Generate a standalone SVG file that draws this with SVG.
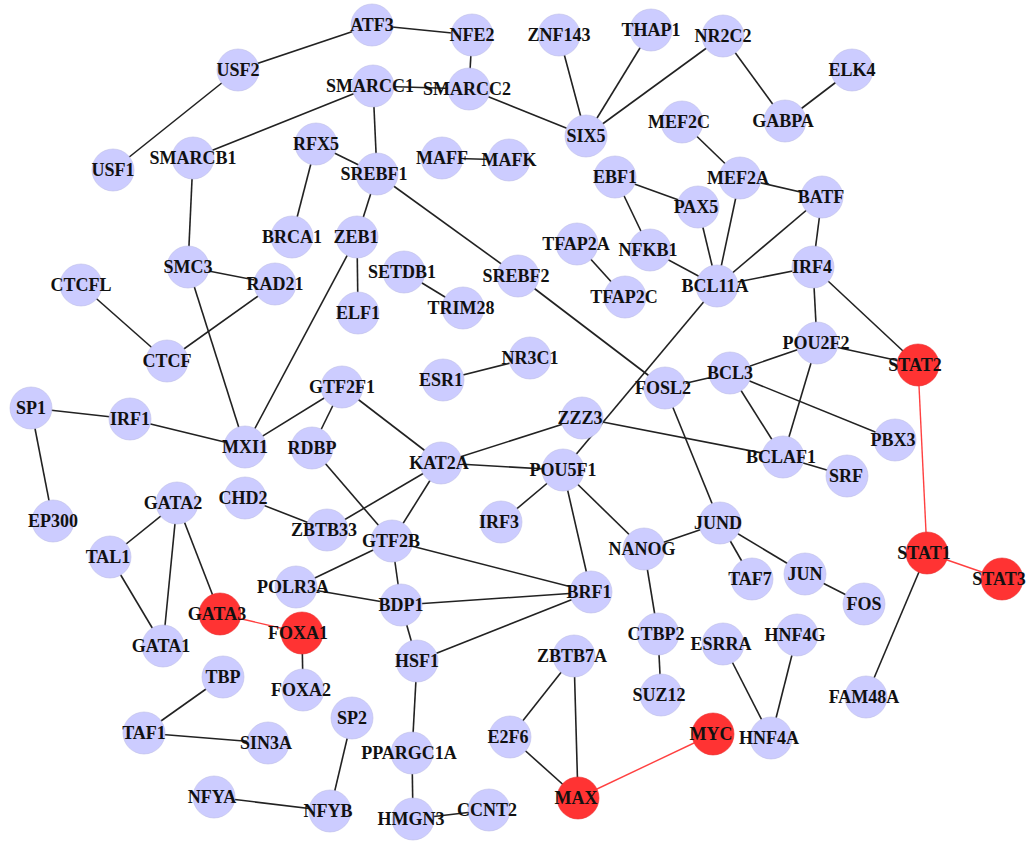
<svg xmlns="http://www.w3.org/2000/svg" width="1034" height="842" viewBox="0 0 1034 842">
<style>
.e{stroke:#222;stroke-width:1.6;fill:none}
.r{stroke:#ff4040;stroke-width:1.4;fill:none}
.n circle{fill:#ccccff;stroke:#c0c0e8;stroke-width:0.6}
.h circle{fill:#ff3333;stroke:#e83030;stroke-width:0.6}
text{font-family:"Liberation Serif","Times New Roman",serif;font-weight:bold;font-size:18px;fill:#111;text-anchor:middle}
</style>
<rect width="1034" height="842" fill="#fff"/>
<g id="edges">
<line class="e" x1="372" y1="25" x2="238" y2="70"/>
<line class="e" x1="372" y1="25" x2="472" y2="35"/>
<line class="e" x1="472" y1="35" x2="469" y2="89"/>
<line class="e" x1="373" y1="86" x2="469" y2="89"/>
<line class="e" x1="373" y1="86" x2="193" y2="158"/>
<line class="e" x1="373" y1="86" x2="377" y2="174"/>
<line class="e" x1="469" y1="89" x2="586" y2="136"/>
<line class="e" x1="238" y1="70" x2="113" y2="170"/>
<line class="e" x1="559" y1="35" x2="586" y2="136"/>
<line class="e" x1="651" y1="30" x2="586" y2="136"/>
<line class="e" x1="723" y1="36" x2="586" y2="136"/>
<line class="e" x1="723" y1="36" x2="785" y2="121"/>
<line class="e" x1="852" y1="70" x2="785" y2="121"/>
<line class="e" x1="682" y1="122" x2="740" y2="178"/>
<line class="e" x1="740" y1="178" x2="822" y2="197"/>
<line class="e" x1="740" y1="178" x2="717" y2="286"/>
<line class="e" x1="615" y1="177" x2="698" y2="207"/>
<line class="e" x1="615" y1="177" x2="650" y2="250"/>
<line class="e" x1="698" y1="207" x2="717" y2="286"/>
<line class="e" x1="650" y1="250" x2="717" y2="286"/>
<line class="e" x1="822" y1="197" x2="717" y2="286"/>
<line class="e" x1="822" y1="197" x2="813" y2="267"/>
<line class="e" x1="813" y1="267" x2="717" y2="286"/>
<line class="e" x1="813" y1="267" x2="817" y2="343"/>
<line class="e" x1="813" y1="267" x2="918" y2="365"/>
<line class="e" x1="817" y1="343" x2="918" y2="365"/>
<line class="e" x1="817" y1="343" x2="730" y2="373"/>
<line class="e" x1="817" y1="343" x2="783" y2="457"/>
<line class="e" x1="730" y1="373" x2="665" y2="388"/>
<line class="e" x1="730" y1="373" x2="783" y2="457"/>
<line class="e" x1="730" y1="373" x2="895" y2="440"/>
<line class="e" x1="783" y1="457" x2="847" y2="476"/>
<line class="e" x1="582" y1="418" x2="783" y2="457"/>
<line class="e" x1="717" y1="286" x2="563" y2="470"/>
<line class="e" x1="377" y1="174" x2="316" y2="144"/>
<line class="e" x1="316" y1="144" x2="292" y2="237"/>
<line class="e" x1="377" y1="174" x2="357" y2="237"/>
<line class="e" x1="377" y1="174" x2="518" y2="276"/>
<line class="e" x1="518" y1="276" x2="665" y2="388"/>
<line class="e" x1="357" y1="237" x2="358" y2="313"/>
<line class="e" x1="357" y1="237" x2="245" y2="447"/>
<line class="e" x1="442" y1="158" x2="509" y2="160"/>
<line class="e" x1="193" y1="158" x2="188" y2="267"/>
<line class="e" x1="188" y1="267" x2="275" y2="284"/>
<line class="e" x1="188" y1="267" x2="245" y2="447"/>
<line class="e" x1="275" y1="284" x2="167" y2="361"/>
<line class="e" x1="81" y1="285" x2="167" y2="361"/>
<line class="e" x1="404" y1="272" x2="463" y2="308"/>
<line class="e" x1="577" y1="244" x2="625" y2="297"/>
<line class="e" x1="443" y1="380" x2="530" y2="358"/>
<line class="e" x1="31" y1="408" x2="130" y2="419"/>
<line class="e" x1="31" y1="408" x2="53" y2="521"/>
<line class="e" x1="130" y1="419" x2="245" y2="447"/>
<line class="e" x1="245" y1="447" x2="342" y2="387"/>
<line class="e" x1="342" y1="387" x2="441" y2="463"/>
<line class="e" x1="342" y1="387" x2="312" y2="448"/>
<line class="e" x1="312" y1="448" x2="392" y2="541"/>
<line class="e" x1="441" y1="463" x2="582" y2="418"/>
<line class="e" x1="441" y1="463" x2="563" y2="470"/>
<line class="e" x1="441" y1="463" x2="392" y2="541"/>
<line class="e" x1="441" y1="463" x2="327" y2="530"/>
<line class="e" x1="245" y1="498" x2="327" y2="530"/>
<line class="e" x1="392" y1="541" x2="296" y2="587"/>
<line class="e" x1="296" y1="587" x2="401" y2="605"/>
<line class="e" x1="392" y1="541" x2="401" y2="605"/>
<line class="e" x1="392" y1="541" x2="591" y2="592"/>
<line class="e" x1="401" y1="605" x2="591" y2="592"/>
<line class="e" x1="401" y1="605" x2="417" y2="661"/>
<line class="e" x1="417" y1="661" x2="591" y2="592"/>
<line class="e" x1="417" y1="661" x2="412" y2="753"/>
<line class="e" x1="412" y1="753" x2="413" y2="819"/>
<line class="e" x1="413" y1="819" x2="489" y2="810"/>
<line class="e" x1="563" y1="470" x2="501" y2="522"/>
<line class="e" x1="563" y1="470" x2="591" y2="592"/>
<line class="e" x1="563" y1="470" x2="644" y2="549"/>
<line class="e" x1="644" y1="549" x2="720" y2="523"/>
<line class="e" x1="644" y1="549" x2="658" y2="634"/>
<line class="e" x1="658" y1="634" x2="661" y2="695"/>
<line class="e" x1="665" y1="388" x2="720" y2="523"/>
<line class="e" x1="720" y1="523" x2="752" y2="579"/>
<line class="e" x1="720" y1="523" x2="805" y2="574"/>
<line class="e" x1="805" y1="574" x2="864" y2="604"/>
<line class="e" x1="723" y1="644" x2="771" y2="738"/>
<line class="e" x1="797" y1="635" x2="771" y2="738"/>
<line class="e" x1="927" y1="553" x2="866" y2="697"/>
<line class="e" x1="574" y1="656" x2="510" y2="737"/>
<line class="e" x1="574" y1="656" x2="578" y2="798"/>
<line class="e" x1="510" y1="737" x2="578" y2="798"/>
<line class="e" x1="177" y1="503" x2="110" y2="557"/>
<line class="e" x1="177" y1="503" x2="163" y2="646"/>
<line class="e" x1="177" y1="503" x2="220" y2="614"/>
<line class="e" x1="110" y1="557" x2="163" y2="646"/>
<line class="e" x1="302" y1="633" x2="303" y2="690"/>
<line class="e" x1="223" y1="677" x2="144" y2="733"/>
<line class="e" x1="144" y1="733" x2="268" y2="743"/>
<line class="e" x1="214" y1="797" x2="330" y2="811"/>
<line class="e" x1="352" y1="718" x2="330" y2="811"/>
<line class="r" x1="918" y1="365" x2="927" y2="553"/>
<line class="r" x1="927" y1="553" x2="1002" y2="579"/>
<line class="r" x1="578" y1="798" x2="713" y2="734"/>
<line class="r" x1="220" y1="614" x2="302" y2="633"/>
</g>
<g id="USF2" class="n"><circle cx="238" cy="70" r="21"/><text x="238" y="76">USF2</text></g>
<g id="USF1" class="n"><circle cx="113" cy="170" r="21"/><text x="113" y="176">USF1</text></g>
<g id="SMARCB1" class="n"><circle cx="193" cy="158" r="21"/><text x="193" y="164">SMARCB1</text></g>
<g id="RFX5" class="n"><circle cx="316" cy="144" r="21"/><text x="316" y="150">RFX5</text></g>
<g id="BRCA1" class="n"><circle cx="292" cy="237" r="21"/><text x="292" y="243">BRCA1</text></g>
<g id="SMC3" class="n"><circle cx="188" cy="267" r="21"/><text x="188" y="273">SMC3</text></g>
<g id="RAD21" class="n"><circle cx="275" cy="284" r="21"/><text x="275" y="290">RAD21</text></g>
<g id="CTCFL" class="n"><circle cx="81" cy="285" r="21"/><text x="81" y="291">CTCFL</text></g>
<g id="CTCF" class="n"><circle cx="167" cy="361" r="21"/><text x="167" y="367">CTCF</text></g>
<g id="SP1" class="n"><circle cx="31" cy="408" r="21"/><text x="31" y="414">SP1</text></g>
<g id="IRF1" class="n"><circle cx="130" cy="419" r="21"/><text x="130" y="425">IRF1</text></g>
<g id="EP300" class="n"><circle cx="53" cy="521" r="21"/><text x="53" y="527">EP300</text></g>
<g id="MXI1" class="n"><circle cx="245" cy="447" r="21"/><text x="245" y="453">MXI1</text></g>
<g id="GTF2F1" class="n"><circle cx="342" cy="387" r="21"/><text x="342" y="393">GTF2F1</text></g>
<g id="RDBP" class="n"><circle cx="312" cy="448" r="21"/><text x="312" y="454">RDBP</text></g>
<g id="ATF3" class="n"><circle cx="372" cy="25" r="21"/><text x="372" y="31">ATF3</text></g>
<g id="NFE2" class="n"><circle cx="472" cy="35" r="21"/><text x="472" y="41">NFE2</text></g>
<g id="SMARCC1" class="n"><circle cx="373" cy="86" r="21"/><text x="370" y="92">SMARCC1</text></g>
<g id="SMARCC2" class="n"><circle cx="469" cy="89" r="21"/><text x="467" y="95">SMARCC2</text></g>
<g id="ZNF143" class="n"><circle cx="559" cy="35" r="21"/><text x="559" y="41">ZNF143</text></g>
<g id="THAP1" class="n"><circle cx="651" cy="30" r="21"/><text x="651" y="36">THAP1</text></g>
<g id="NR2C2" class="n"><circle cx="723" cy="36" r="21"/><text x="723" y="42">NR2C2</text></g>
<g id="ELK4" class="n"><circle cx="852" cy="70" r="21"/><text x="852" y="76">ELK4</text></g>
<g id="GABPA" class="n"><circle cx="785" cy="121" r="21"/><text x="783" y="127">GABPA</text></g>
<g id="SIX5" class="n"><circle cx="586" cy="136" r="21"/><text x="586" y="142">SIX5</text></g>
<g id="MEF2C" class="n"><circle cx="682" cy="122" r="21"/><text x="679" y="128">MEF2C</text></g>
<g id="MAFF" class="n"><circle cx="442" cy="158" r="21"/><text x="442" y="164">MAFF</text></g>
<g id="MAFK" class="n"><circle cx="509" cy="160" r="21"/><text x="509" y="166">MAFK</text></g>
<g id="SREBF1" class="n"><circle cx="377" cy="174" r="21"/><text x="374" y="180">SREBF1</text></g>
<g id="EBF1" class="n"><circle cx="615" cy="177" r="21"/><text x="615" y="183">EBF1</text></g>
<g id="PAX5" class="n"><circle cx="698" cy="207" r="21"/><text x="696" y="213">PAX5</text></g>
<g id="MEF2A" class="n"><circle cx="740" cy="178" r="21"/><text x="738" y="184">MEF2A</text></g>
<g id="BATF" class="n"><circle cx="822" cy="197" r="21"/><text x="821" y="203">BATF</text></g>
<g id="ZEB1" class="n"><circle cx="357" cy="237" r="21"/><text x="356" y="243">ZEB1</text></g>
<g id="ELF1" class="n"><circle cx="358" cy="313" r="21"/><text x="358" y="319">ELF1</text></g>
<g id="SETDB1" class="n"><circle cx="404" cy="272" r="21"/><text x="402" y="278">SETDB1</text></g>
<g id="TRIM28" class="n"><circle cx="463" cy="308" r="21"/><text x="461" y="314">TRIM28</text></g>
<g id="SREBF2" class="n"><circle cx="518" cy="276" r="21"/><text x="516" y="282">SREBF2</text></g>
<g id="TFAP2A" class="n"><circle cx="577" cy="244" r="21"/><text x="576" y="250">TFAP2A</text></g>
<g id="NFKB1" class="n"><circle cx="650" cy="250" r="21"/><text x="648" y="256">NFKB1</text></g>
<g id="TFAP2C" class="n"><circle cx="625" cy="297" r="21"/><text x="624" y="303">TFAP2C</text></g>
<g id="BCL11A" class="n"><circle cx="717" cy="286" r="21"/><text x="715" y="292">BCL11A</text></g>
<g id="IRF4" class="n"><circle cx="813" cy="267" r="21"/><text x="812" y="273">IRF4</text></g>
<g id="POU2F2" class="n"><circle cx="817" cy="343" r="21"/><text x="816" y="349">POU2F2</text></g>
<g id="BCL3" class="n"><circle cx="730" cy="373" r="21"/><text x="730" y="379">BCL3</text></g>
<g id="FOSL2" class="n"><circle cx="665" cy="388" r="21"/><text x="663" y="394">FOSL2</text></g>
<g id="NR3C1" class="n"><circle cx="530" cy="358" r="21"/><text x="530" y="364">NR3C1</text></g>
<g id="ESR1" class="n"><circle cx="443" cy="380" r="21"/><text x="441" y="386">ESR1</text></g>
<g id="ZZZ3" class="n"><circle cx="582" cy="418" r="21"/><text x="580" y="424">ZZZ3</text></g>
<g id="KAT2A" class="n"><circle cx="441" cy="463" r="21"/><text x="439" y="469">KAT2A</text></g>
<g id="POU5F1" class="n"><circle cx="563" cy="470" r="21"/><text x="563" y="476">POU5F1</text></g>
<g id="BCLAF1" class="n"><circle cx="783" cy="457" r="21"/><text x="781" y="463">BCLAF1</text></g>
<g id="PBX3" class="n"><circle cx="895" cy="440" r="21"/><text x="893" y="446">PBX3</text></g>
<g id="SRF" class="n"><circle cx="847" cy="476" r="21"/><text x="846" y="482">SRF</text></g>
<g id="IRF3" class="n"><circle cx="501" cy="522" r="21"/><text x="499" y="528">IRF3</text></g>
<g id="GTF2B" class="n"><circle cx="392" cy="541" r="21"/><text x="391" y="547">GTF2B</text></g>
<g id="ZBTB33" class="n"><circle cx="327" cy="530" r="21"/><text x="324" y="536">ZBTB33</text></g>
<g id="CHD2" class="n"><circle cx="245" cy="498" r="21"/><text x="243" y="504">CHD2</text></g>
<g id="GATA2" class="n"><circle cx="177" cy="503" r="21"/><text x="173" y="509">GATA2</text></g>
<g id="TAL1" class="n"><circle cx="110" cy="557" r="21"/><text x="108" y="563">TAL1</text></g>
<g id="POLR3A" class="n"><circle cx="296" cy="587" r="21"/><text x="293" y="593">POLR3A</text></g>
<g id="GATA1" class="n"><circle cx="163" cy="646" r="21"/><text x="161" y="652">GATA1</text></g>
<g id="TBP" class="n"><circle cx="223" cy="677" r="21"/><text x="223" y="683">TBP</text></g>
<g id="FOXA2" class="n"><circle cx="303" cy="690" r="21"/><text x="301" y="696">FOXA2</text></g>
<g id="TAF1" class="n"><circle cx="144" cy="733" r="21"/><text x="144" y="739">TAF1</text></g>
<g id="SIN3A" class="n"><circle cx="268" cy="743" r="21"/><text x="266" y="749">SIN3A</text></g>
<g id="NFYA" class="n"><circle cx="214" cy="797" r="21"/><text x="212" y="803">NFYA</text></g>
<g id="NFYB" class="n"><circle cx="330" cy="811" r="21"/><text x="328" y="817">NFYB</text></g>
<g id="SP2" class="n"><circle cx="352" cy="718" r="21"/><text x="352" y="724">SP2</text></g>
<g id="BDP1" class="n"><circle cx="401" cy="605" r="21"/><text x="401" y="611">BDP1</text></g>
<g id="HSF1" class="n"><circle cx="417" cy="661" r="21"/><text x="417" y="667">HSF1</text></g>
<g id="PPARGC1A" class="n"><circle cx="412" cy="753" r="21"/><text x="409" y="759">PPARGC1A</text></g>
<g id="HMGN3" class="n"><circle cx="413" cy="819" r="21"/><text x="411" y="825">HMGN3</text></g>
<g id="CCNT2" class="n"><circle cx="489" cy="810" r="21"/><text x="487" y="816">CCNT2</text></g>
<g id="NANOG" class="n"><circle cx="644" cy="549" r="21"/><text x="642" y="555">NANOG</text></g>
<g id="BRF1" class="n"><circle cx="591" cy="592" r="21"/><text x="589" y="598">BRF1</text></g>
<g id="CTBP2" class="n"><circle cx="658" cy="634" r="21"/><text x="656" y="640">CTBP2</text></g>
<g id="SUZ12" class="n"><circle cx="661" cy="695" r="21"/><text x="659" y="701">SUZ12</text></g>
<g id="ZBTB7A" class="n"><circle cx="574" cy="656" r="21"/><text x="572" y="662">ZBTB7A</text></g>
<g id="E2F6" class="n"><circle cx="510" cy="737" r="21"/><text x="508" y="743">E2F6</text></g>
<g id="HNF4A" class="n"><circle cx="771" cy="738" r="21"/><text x="769" y="744">HNF4A</text></g>
<g id="ESRRA" class="n"><circle cx="723" cy="644" r="21"/><text x="721" y="650">ESRRA</text></g>
<g id="HNF4G" class="n"><circle cx="797" cy="635" r="21"/><text x="795" y="641">HNF4G</text></g>
<g id="JUND" class="n"><circle cx="720" cy="523" r="21"/><text x="718" y="529">JUND</text></g>
<g id="TAF7" class="n"><circle cx="752" cy="579" r="21"/><text x="750" y="585">TAF7</text></g>
<g id="JUN" class="n"><circle cx="805" cy="574" r="21"/><text x="805" y="580">JUN</text></g>
<g id="FOS" class="n"><circle cx="864" cy="604" r="21"/><text x="864" y="610">FOS</text></g>
<g id="FAM48A" class="n"><circle cx="866" cy="697" r="21"/><text x="864" y="703">FAM48A</text></g>
<g id="STAT2" class="h"><circle cx="918" cy="365" r="21"/><text x="915" y="371">STAT2</text></g>
<g id="STAT1" class="h"><circle cx="927" cy="553" r="21"/><text x="924" y="559">STAT1</text></g>
<g id="STAT3" class="h"><circle cx="1002" cy="579" r="21"/><text x="999" y="585">STAT3</text></g>
<g id="GATA3" class="h"><circle cx="220" cy="614" r="21"/><text x="217" y="620">GATA3</text></g>
<g id="FOXA1" class="h"><circle cx="302" cy="633" r="21"/><text x="298" y="639">FOXA1</text></g>
<g id="MAX" class="h"><circle cx="578" cy="798" r="21"/><text x="576" y="804">MAX</text></g>
<g id="MYC" class="h"><circle cx="713" cy="734" r="21"/><text x="711" y="740">MYC</text></g>
</svg>
